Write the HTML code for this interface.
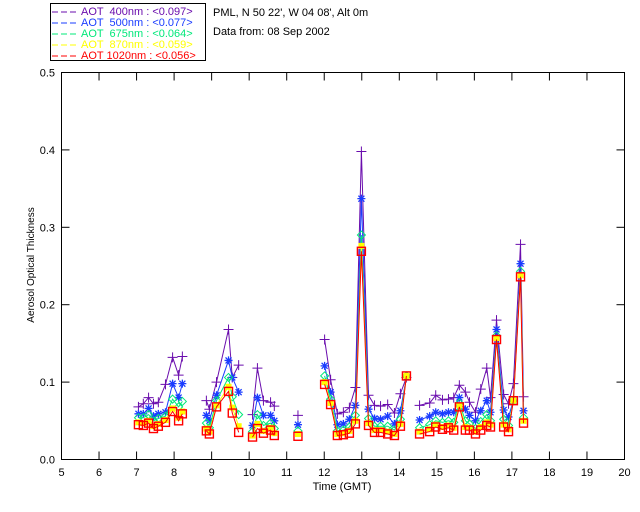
<!DOCTYPE html>
<html><head><meta charset="utf-8"><style>
body{margin:0;background:#fff;}
svg{display:block;font-family:"Liberation Sans",sans-serif;}
</style></head><body>
<svg id="chart" width="640" height="512" viewBox="0 0 640 512">
<rect x="50.5" y="3.5" width="155" height="57" fill="#fff" stroke="#000"/>
<g font-size="11">
<g><line x1="52" y1="12" x2="76" y2="12" stroke="#6a0dad" stroke-dasharray="6,3"/><text x="81" y="15" fill="#6a0dad" xml:space="preserve">AOT  400nm : &lt;0.097&gt;</text></g>
<g><line x1="52" y1="23" x2="76" y2="23" stroke="#1a3cff" stroke-dasharray="6,3"/><text x="81" y="26" fill="#1a3cff" xml:space="preserve">AOT  500nm : &lt;0.077&gt;</text></g>
<g><line x1="52" y1="34" x2="76" y2="34" stroke="#00e87a" stroke-dasharray="6,3"/><text x="81" y="37" fill="#00e87a" xml:space="preserve">AOT  675nm : &lt;0.064&gt;</text></g>
<g><line x1="52" y1="45" x2="76" y2="45" stroke="#ffff00" stroke-dasharray="6,3"/><text x="81" y="48" fill="#ffff00" xml:space="preserve">AOT  870nm : &lt;0.059&gt;</text></g>
<g><line x1="52" y1="56" x2="76" y2="56" stroke="#ff0000" stroke-dasharray="6,3"/><text x="81" y="59" fill="#ff0000" xml:space="preserve">AOT 1020nm : &lt;0.056&gt;</text></g>
</g>
<text x="213" y="16" font-size="11">PML, N 50 22', W 04 08', Alt 0m</text>
<text x="213" y="35" font-size="11">Data from: 08 Sep 2002</text>
<rect x="61.5" y="72.5" width="563" height="387" fill="none" stroke="#000"/>
<g id="axes"></g>
<g id="marks"></g>
<text transform="translate(34,265) rotate(-90)" text-anchor="middle" font-size="10">Aerosol Optical Thickness</text>
<text x="342" y="490" text-anchor="middle" font-size="11">Time (GMT)</text>
</svg>
<script>
const times=[7.05,7.18,7.32,7.45,7.58,7.77,7.96,8.12,8.22,null,8.86,8.94,9.13,9.45,9.55,9.72,null,10.09,10.22,10.38,10.57,10.67,null,11.3,null,12.01,12.17,12.35,12.51,12.67,12.83,12.99,13.18,13.34,13.5,13.69,13.87,14.03,14.19,null,14.54,14.81,14.97,15.15,15.31,15.45,15.6,15.76,15.87,16.03,16.17,16.33,16.43,16.59,16.78,16.91,17.04,17.23,17.31];
const aot400=[.068,.072,.080,.072,.074,.097,.132,.109,.133,null,.076,.065,.100,.168,.106,.122,null,.058,.118,.076,.074,.069,null,.057,null,.155,.103,.059,.061,.067,.093,.398,.083,.070,.069,.071,.060,.085,.106,null,.070,.073,.083,.077,.078,.080,.096,.087,.074,.061,.091,.118,.080,.180,.084,.072,.098,.278,.081];
const aot500=[.059,.059,.066,.056,.059,.061,.098,.080,.098,null,.057,.050,.083,.128,.106,.087,null,.044,.080,.057,.057,.050,null,.045,null,.121,.087,.045,.046,.052,.070,.337,.065,.053,.052,.056,.046,.063,.106,null,.051,.056,.061,.059,.061,.061,.080,.065,.057,.050,.063,.076,.061,.168,.064,.055,.076,.253,.063];
const aot675=[.054,.054,.058,.050,.053,.056,.078,.068,.075,null,.047,.041,.076,.106,.081,.058,null,.036,.058,.044,.047,.040,null,.037,null,.108,.078,.037,.038,.042,.057,.290,.053,.043,.043,.043,.038,.052,.108,null,.041,.045,.050,.048,.050,.048,.073,.050,.046,.040,.049,.058,.050,.160,.052,.044,.076,.243,.054];
const aot870=[.048,.047,.050,.043,.046,.051,.066,.054,.062,null,.040,.036,.070,.094,.067,.043,null,.031,.046,.037,.041,.034,null,.033,null,.100,.073,.033,.034,.037,.050,.276,.047,.038,.038,.036,.033,.046,.108,null,.036,.039,.045,.042,.044,.041,.070,.042,.041,.036,.042,.048,.045,.157,.045,.039,.076,.238,.050];
const aot1020=[.045,.044,.047,.040,.043,.048,.062,.050,.059,null,.037,.033,.068,.088,.060,.035,null,.029,.040,.034,.038,.031,null,.030,null,.097,.071,.031,.032,.034,.046,.269,.044,.035,.035,.033,.031,.043,.108,null,.033,.036,.042,.039,.041,.038,.068,.038,.038,.033,.038,.044,.042,.155,.042,.036,.076,.236,.047];
const xTicks=[5,6,7,8,9,10,11,12,13,14,15,16,17,18,19,20];
const yTicks=[0.0,0.1,0.2,0.3,0.4,0.5];
const yLabels=["0.0","0.1","0.2","0.3","0.4","0.5"];

const NS="http://www.w3.org/2000/svg";
const X0=61.5,X1=624.5,Y0=459.5,Y1=72.5;
const xs=t=>X0+(t-5)/15*(X1-X0);
const ys=v=>Y0-v/0.5*(Y0-Y1);
function mk(tag,attrs,parent){const e=document.createElementNS(NS,tag);for(const k in attrs)e.setAttribute(k,attrs[k]);parent.appendChild(e);return e;}
const axes=document.getElementById('axes'),marks=document.getElementById('marks');
xTicks.forEach(t=>{
  const x=xs(t);
  const tk=mk('line',{x1:x,y1:Y0,x2:x,y2:Y0-8,stroke:'#000'},axes);
  
  
  const tk2=mk('line',{x1:x,y1:Y1,x2:x,y2:Y1+8,stroke:'#000'},axes);
  
  
  const lb=mk('text',{x:x,y:476,'text-anchor':'middle','font-size':'11'},axes);
  lb.textContent=t;
  
  
});
yTicks.forEach((v,i)=>{
  const y=ys(v);
  const tk=mk('line',{x1:X0,y1:y,x2:X0+8,y2:y,stroke:'#000'},axes);
  
  
  const tk2=mk('line',{x1:X1,y1:y,x2:X1-8,y2:y,stroke:'#000'},axes);
  
  
  const lb=mk('text',{x:55,y:y+4,'text-anchor':'end','font-size':'11'},axes);
  lb.textContent=yLabels[i];
  
  
});
const series=[
 {name:'400',vals:aot400,color:'#6a0dad',m:'plus'},
 {name:'500',vals:aot500,color:'#1a3cff',m:'star'},
 {name:'675',vals:aot675,color:'#00e87a',m:'diamond'},
 {name:'870',vals:aot870,color:'#ffff00',m:'fsquare'},
 {name:'1020',vals:aot1020,color:'#ff0000',m:'square'}
];
series.forEach(s=>{
  const g=mk('g',{},marks);
  
  
  let d='',pen=false;
  times.forEach((t,i)=>{
    const v=s.vals[i];
    if(t===null||v===null){pen=false;return;}
    d+=(pen?'L':'M')+xs(t).toFixed(1)+' '+ys(v).toFixed(1);pen=true;
  });
  const ln=mk('path',{d:d,fill:'none',stroke:s.color,'stroke-width':1},g);
  
  
  times.forEach((t,i)=>{
    const v=s.vals[i];
    if(t===null||v===null)return;
    const x=xs(t),y=ys(v);let p;
    if(s.m==='plus')p=mk('path',{d:`M${x-5} ${y}H${x+5}M${x} ${y-5}V${y+5}`,stroke:s.color,'stroke-width':1},g);
    else if(s.m==='star')p=mk('path',{d:`M${x-4} ${y}H${x+4}M${x} ${y-4}V${y+4}M${x-3} ${y-3}L${x+3} ${y+3}M${x-3} ${y+3}L${x+3} ${y-3}`,stroke:s.color,'stroke-width':1.3},g);
    else if(s.m==='diamond')p=mk('path',{d:`M${x} ${y-4}L${x+4} ${y}L${x} ${y+4}L${x-4} ${y}Z`,fill:'none',stroke:s.color,'stroke-width':1},g);
    else if(s.m==='fsquare')p=mk('rect',{x:x-3,y:y-3,width:6,height:6,fill:s.color},g);
    else p=mk('rect',{x:x-4,y:y-4,width:8,height:8,fill:'none',stroke:s.color,'stroke-width':1.4},g);
    
    
  });
});
</script>
</body></html>
